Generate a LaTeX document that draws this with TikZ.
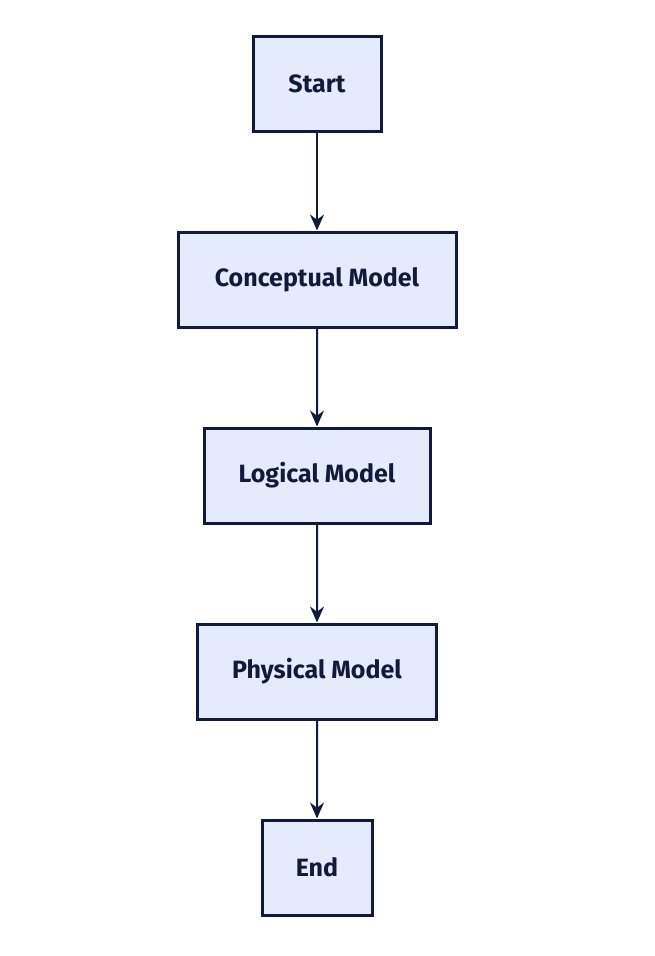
\documentclass[tikz,border=0pt]{standalone}
\usepackage{fontspec}
\setmainfont{Fira Sans}
\usetikzlibrary{arrows.meta}
\definecolor{boxfill}{HTML}{E4EBFC}
\definecolor{boxline}{HTML}{111A3A}
\tikzset{stage/.style={draw=boxline,fill=boxfill,line width=3pt,minimum height=95pt,inner xsep=30pt,font=\fontsize{25}{28}\selectfont\bfseries,text=boxline}}

\begin{document}
\begin{tikzpicture}[x=1pt,y=1pt,level distance=196pt,
    edge from parent/.style={draw=boxline,line width=2pt,-{Stealth[length=16pt,width=14pt]}}]
            \useasboundingbox (0,0) rectangle (654,-956);
            \node[stage,minimum width=128pt] (start) at (317,-83.5) {Start}
                child { node[stage,minimum width=278pt] (concept) {Conceptual Model}
                    child { node[stage,minimum width=226pt] (logical) {Logical Model}
                        child { node[stage,minimum width=239pt] (physical) {Physical Model}
                            child { node[stage,minimum width=110pt] (end) {End} }
                        }
                    }
                }
                ;
\end{tikzpicture}
\end{document}
